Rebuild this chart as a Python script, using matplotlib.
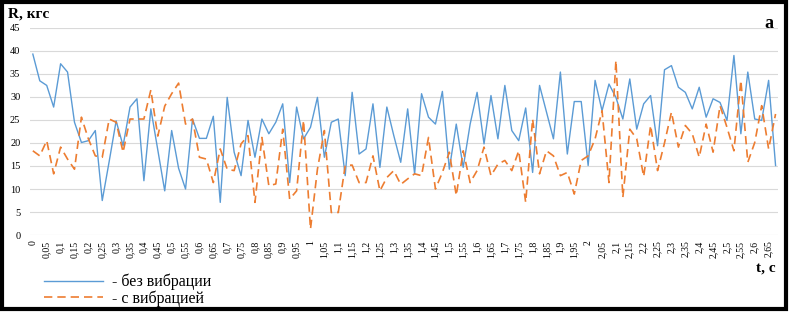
import numpy as np
import matplotlib
matplotlib.use("Agg")
import matplotlib.pyplot as plt
from matplotlib.lines import Line2D
from matplotlib.patches import Rectangle

plt.rcParams['font.family'] = ['Liberation Serif', 'DejaVu Serif']

# R, kgf, one value every 0.025 s
no_vibration = [39.3, 33.5, 32.5, 27.8, 37.2, 35.4, 24.5, 20.1, 20.5, 22.7,
                7.5, 16.0, 24.8, 19.4, 27.8, 29.6, 11.8, 27.4, 18.5, 9.6,
                22.7, 14.5, 10.0, 25.2, 21.0, 21.0, 25.8, 7.1, 29.9, 18.0,
                12.9, 24.9, 16.9, 25.2, 22.0, 24.5, 28.5, 11.4, 27.8, 20.9,
                23.4, 29.9, 16.9, 24.5, 25.2, 12.9, 31.0, 17.6, 18.7, 28.5,
                14.7, 27.8, 21.6, 15.8, 27.4, 13.3, 30.7, 25.6, 24.1, 31.2,
                14.3, 24.1, 14.7, 24.1, 31.0, 19.8, 30.3, 20.9, 32.5, 22.7,
                20.5, 27.6, 13.6, 32.5, 26.7, 20.9, 35.4, 17.6, 29.0, 29.0,
                15.1, 33.6, 27.0, 32.8, 29.9, 25.2, 33.9, 23.0, 28.5, 30.3,
                19.4, 35.9, 36.8, 32.1, 31.0, 27.4, 32.1, 25.6, 29.6, 28.8,
                24.9, 39.0, 22.0, 35.4, 25.2, 24.9, 33.6, 15.1]
with_vibration = [18.3, 17.2, 20.5, 13.3, 19.1, 16.5, 14.3, 25.6, 20.9, 17.2,
                  16.9, 25.2, 24.5, 18.0, 25.2, 25.2, 25.2, 31.5, 21.5, 28.0,
                  30.7, 33.0, 24.1, 25.2, 16.9, 16.5, 11.4, 18.7, 14.3, 14.0,
                  19.8, 21.6, 7.1, 21.2, 10.7, 11.1, 23.0, 7.8, 9.6, 24.9,
                  1.3, 14.3, 22.7, 4.9, 4.9, 15.1, 15.2, 11.4, 11.4, 17.2,
                  9.6, 12.5, 14.0, 11.0, 12.2, 13.3, 12.9, 21.2, 10.0, 13.6,
                  18.0, 8.6, 18.3, 11.4, 14.0, 19.1, 12.9, 15.4, 16.2, 14.0,
                  18.3, 7.1, 25.2, 13.3, 18.3, 17.2, 12.9, 13.6, 8.9, 16.2,
                  17.2, 20.9, 27.0, 11.4, 37.9, 8.2, 23.0, 20.9, 12.7, 23.8,
                  14.0, 20.0, 26.7, 19.1, 23.8, 22.0, 16.9, 24.1, 18.0, 28.1,
                  23.4, 18.3, 33.6, 15.8, 20.1, 28.1, 18.7, 26.3]

n = len(no_vibration)
idx = np.arange(n)
tick_idx = idx[::2][:54]
tick_labels = [('%g' % round(i * 0.025, 3)).replace('.', ',') for i in tick_idx]

fig = plt.figure(figsize=(7.91, 3.13), dpi=100)
ax = fig.add_axes([0.038, 0.249, 0.946, 0.662])

ax.plot(idx, no_vibration, color='#5b9bd5', lw=1.0)
ax.plot(idx, with_vibration, color='#ed7d31', lw=1.2, ls=(0, (5, 3)))

ax.set_ylim(0, 45)
ax.set_xlim(-0.4, n - 0.6)
ax.set_yticks(range(0, 50, 5))
ax.set_xticks(tick_idx)
ax.set_xticklabels(tick_labels, rotation=90, fontsize=7)
ax.tick_params(axis='y', labelsize=7.5, length=0, pad=7)
ax.tick_params(axis='x', length=0, pad=4)
ax.grid(axis='y', color='#d9d9d9', lw=0.8)
ax.set_axisbelow(True)
for s in ax.spines.values():
    s.set_visible(False)

fig.text(0.010, 0.955, 'R, кгс', fontsize=11, fontweight='bold', va='center')
fig.text(0.978, 0.925, 'a', fontsize=13, fontweight='bold', ha='right', va='center')
fig.text(0.980, 0.145, 't, c', fontsize=11, fontweight='bold', ha='right', va='center')

handles = [Line2D([], [], color='#5b9bd5', lw=1.0),
           Line2D([], [], color='#ed7d31', lw=1.2, ls=(0, (5, 3)))]
fig.legend(handles, ['- без вибрации', '- с вибрацией'], loc='upper left',
           bbox_to_anchor=(0.055, 0.125), frameon=False, fontsize=11.5,
           handlelength=3.7, handletextpad=0.6, labelspacing=0.0,
           borderaxespad=0, borderpad=0)

fig.patches.append(Rectangle((0.003, 0.012), 0.991, 0.982, transform=fig.transFigure,
                             fill=False, edgecolor='black', lw=3))

fig.savefig('out.png', dpi=100)
